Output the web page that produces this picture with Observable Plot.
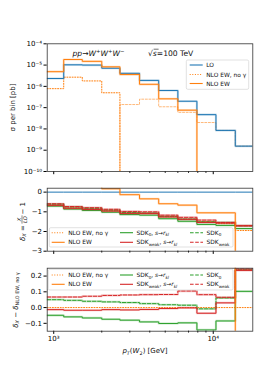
<!DOCTYPE html>
<html><head><meta charset="utf-8">
<script src="https://cdn.jsdelivr.net/npm/d3@7"></script>
<script src="https://cdn.jsdelivr.net/npm/@observablehq/plot@0.6"></script>
<style>
body{margin:0;background:#fff;}
#root{position:relative;width:266px;height:372px;font-family:"DejaVu Sans",sans-serif;overflow:hidden;background:#fff}
#root svg{position:absolute;left:0;}
</style></head><body><div id="root"></div>
<script>
// ---- data ----
const binEdges = [910, 1155, 1510, 2000, 2600, 3450, 4550, 6000, 7900, 10400, 13750, 17700];

// top panel: sigma per bin [pb]
const sigmaLO        = [2.34e-6, 1.03e-5, 1.0e-5, 7.1e-6, 4.1e-6, 1.9e-6, 6.4e-7, 2.0e-7, 4.7e-8, 8.5e-9, 1.55e-9];
const sigmaNLOEW     = [4.9e-6, 1.83e-5, 1.5e-5, 8.3e-6, 3.6e-6, 1.25e-6, 2.6e-7, 7.6e-8, -2.4e-9, -4.3e-10, -4.6e-9];
const sigmaNoGamma   = [7.8e-7, 2.7e-6, 1.8e-6, 5.0e-7, -1.4e-7, -2.5e-7, -1.1e-7, -6e-8, -2e-8, -8.5e-9, -1.55e-9];

// middle panel: delta_X = X/LO - 1
const deltaLO        = [0, 0, 0, 0, 0, 0, 0, 0, 0, 0, 0];
const deltaNLOEW     = [1.1, 0.78, 0.5, 0.17, -0.13, -0.34, -0.59, -0.66, -1.05, -1.05, -4.0];
const deltaNoGamma   = [-0.66, -0.80, -0.86, -0.95, -1.06, -1.08, -1.25, -1.38, -1.50, -1.60, -1.95];
const deltaSDK0r     = [-0.71, -0.86, -0.93, -1.02, -1.14, -1.17, -1.35, -1.48, -1.64, -1.69, -1.85];
const deltaSDK0      = [-0.61, -0.75, -0.82, -0.91, -1.03, -1.06, -1.23, -1.37, -1.51, -1.54, -1.71];
const deltaSDKweakR  = [-0.67, -0.82, -0.88, -0.96, -1.08, -1.09, -1.26, -1.38, -1.54, -1.57, -1.71];
const deltaSDKweak   = [-0.59, -0.73, -0.79, -0.87, -0.98, -1.00, -1.17, -1.28, -1.42, -1.54, -1.70];

// bottom panel: delta_X - delta_(NLO EW, no gamma)
const diffNoGamma    = [0, 0, 0, 0, 0, 0, 0, 0, 0, 0, 0];
const diffNLOEW      = [1.76, 1.58, 1.36, 1.12, 0.93, 0.74, 0.66, 0.72, 0.45, 0.55, -2.0];
const diffSDK0r      = [-0.049, -0.059, -0.066, -0.074, -0.080, -0.091, -0.101, -0.097, -0.142, -0.085, 0.103];
const diffSDK0       = [0.050, 0.046, 0.040, 0.036, 0.032, 0.025, 0.018, 0.015, -0.008, 0.061, 0.240];
const diffSDKweakR   = [-0.013, -0.017, -0.017, -0.013, -0.015, -0.012, -0.006, -0.002, -0.036, 0.030, 0.236];
const diffSDKweak    = [0.067, 0.067, 0.072, 0.077, 0.080, 0.082, 0.083, 0.105, 0.082, 0.065, 0.245];

const xMajorTicks = [1000, 10000];
const xMinorTicks = [2000, 3000, 4000, 5000, 6000, 7000, 8000, 9000];
const topYTicks = [1e-4, 1e-5, 1e-6, 1e-7, 1e-8, 1e-9, 1e-10];
const midYTicks = [0, -1, -2, -3];
const botYTicks = [0.2, 0.1, 0, -0.1];

// ---- styles ----
const C = {blue: "#1f77b4", orange: "#ff7f0e", green: "#2ca02c", red: "#d62728"};
const DOT = "1,1.6", DASH = "3.6,1.6";
const FONT = "DejaVu Sans, sans-serif";

const SUP = {"-": "\u207B", "0": "\u2070", "1": "\u00B9", "2": "\u00B2", "3": "\u00B3", "4": "\u2074", "5": "\u2075", "6": "\u2076", "7": "\u2077", "8": "\u2078", "9": "\u2079"};
const pow10 = d => "10" + String(Math.round(Math.log10(d))).split("").map(c => SUP[c]).join("");
const minus = d => (d < 0 ? "\u2212" : "") + Math.abs(d);

function steps(vals, f = v => v) {
  const pts = vals.map((v, i) => ({x: binEdges[i], y: f(v)}));
  pts.push({x: binEdges[binEdges.length - 1], y: f(vals[vals.length - 1])});
  return pts;
}
const posOnly = v => (v > 0 ? v : 1e-14);
const negOnly = v => (v < 0 ? -v : 1e-14);

function stepLine(vals, stroke, opts = {}, f) {
  const data = steps(vals, f);
  const marks = [];
  if (opts.band) marks.push(Plot.line(data, {x: "x", y: "y", curve: "step-after", stroke, strokeWidth: 2.2, strokeOpacity: 0.25, clip: true}));
  marks.push(Plot.line(data, {x: "x", y: "y", curve: "step-after", stroke, strokeWidth: opts.w || 1, strokeDasharray: opts.dash, strokeOpacity: opts.op || 1, clip: true}));
  return marks;
}

function xAxes(withLabels) {
  return [
    Plot.axisX({ticks: xMinorTicks, tickSize: 1.8, tickFormat: () => "", label: null}),
    Plot.axisX({ticks: xMajorTicks, tickSize: 3.2, tickPadding: 1.5, tickFormat: withLabels ? pow10 : () => "", label: null})
  ];
}

const common = {
  width: 266, marginLeft: 46.7, marginRight: 13.7,
  x: {type: "log", domain: [binEdges[0], binEdges[binEdges.length - 1]]},
  style: {fontFamily: FONT, fontSize: "7px", background: "transparent", overflow: "visible"}
};
const frame = Plot.frame({stroke: "#333", strokeWidth: 0.8});

const topPlot = Plot.plot({
  ...common, height: 180, marginTop: 43.3, marginBottom: 9,
  y: {type: "log", domain: [1e-10, 1e-4]},
  marks: [
    ...stepLine(sigmaNoGamma, C.orange, {dash: DOT}, posOnly),
    ...stepLine(sigmaNoGamma, C.orange, {dash: "2,1.6", op: 0.55}, negOnly),
    ...stepLine(sigmaLO, C.blue, {band: true}, posOnly),
    ...stepLine(sigmaNLOEW, C.orange, {band: true}, posOnly),
    ...xAxes(false),
    Plot.axisY({ticks: topYTicks, tickSize: 3.2, tickPadding: 2, tickFormat: pow10, label: null}),
    frame
  ]
});

const midPlot = Plot.plot({
  ...common, height: 80, marginTop: 7.7, marginBottom: 9.3,
  y: {domain: [-3, 0.2]},
  marks: [
    ...stepLine(deltaLO, C.blue, {}),
    ...stepLine(deltaNoGamma, C.orange, {dash: DOT}),
    ...stepLine(deltaSDK0r, C.green, {band: true}),
    ...stepLine(deltaSDK0, C.green, {dash: DASH, band: true}),
    ...stepLine(deltaSDKweakR, C.red, {band: true}),
    ...stepLine(deltaSDKweak, C.red, {dash: DASH, band: true}),
    ...stepLine(deltaNLOEW, C.orange, {band: true}),
    ...xAxes(false),
    Plot.axisY({ticks: midYTicks, tickSize: 3.2, tickPadding: 2, tickFormat: minus, label: null}),
    frame
  ]
});

const botPlot = Plot.plot({
  ...common, height: 112, marginTop: 7.7, marginBottom: 41.3,
  y: {domain: [-0.15, 0.25]},
  marks: [
    ...stepLine(diffNoGamma, C.orange, {dash: DOT}),
    ...stepLine(diffSDK0r, C.green, {band: true}),
    ...stepLine(diffSDK0, C.green, {dash: DASH, band: true}),
    ...stepLine(diffSDKweakR, C.red, {band: true}),
    ...stepLine(diffSDKweak, C.red, {dash: DASH, band: true}),
    ...stepLine(diffNLOEW, C.orange, {band: true}),
    ...xAxes(true),
    Plot.axisY({ticks: botYTicks, tickSize: 3.2, tickPadding: 2, tickFormat: d => (d < 0 ? "\u2212" : "") + Math.abs(d).toFixed(1), label: null}),
    frame
  ]
});

const root = document.getElementById("root");
[[topPlot, 0], [midPlot, 180], [botPlot, 260]].forEach(([svg, top]) => { svg.style.top = top + "px"; root.appendChild(svg); });

// ---- overlay: titles, axis labels, legends ----
const ov = d3.select(root).append("svg").attr("width", 266).attr("height", 372)
  .style("top", "0px").style("font-family", FONT);

function rich(g, x, y, segs, size, anchor = "start") {
  const t = g.append("text").attr("x", x).attr("y", y).attr("font-size", size).attr("text-anchor", anchor).attr("fill", "#111");
  let shift = 0;
  for (const s of segs) {
    const target = s.sub ? size * 0.28 : s.sup ? -size * 0.38 : 0;
    t.append("tspan").attr("dy", target - shift).attr("font-size", (s.sub || s.sup) ? size * 0.7 : size)
      .attr("font-style", s.it ? "italic" : "normal").text(s.t);
    shift = target;
  }
  return t;
}

// title
rich(ov, 72.5, 56, [{t: "pp", it: true}, {t: "\u2192"}, {t: "W", it: true}, {t: "+", sup: true}, {t: "W", it: true}, {t: "+", sup: true}, {t: "W", it: true}, {t: "\u2212", sup: true}], 7.6);
rich(ov, 148, 56, [{t: "\u221A"}, {t: "s", it: true}, {t: "=100 TeV"}], 7.6);
ov.append("line").attr("x1", 153.6).attr("x2", 158.6).attr("y1", 49.2).attr("y2", 49.2).attr("stroke", "#111").attr("stroke-width", 0.6);

// y labels
ov.append("text").attr("transform", "translate(13,107.5) rotate(-90)").attr("text-anchor", "middle")
  .attr("dy", "0.35em").attr("font-size", 7).attr("fill", "#111").text("\u03C3 per bin [pb]");

const gm = ov.append("g").attr("transform", "translate(22,220) rotate(-90)");
rich(gm, -21, 2.5, [{t: "\u03B4", it: true}, {t: "X", sub: true, it: true}, {t: " = "}], 7);
gm.append("text").attr("x", 0.5).attr("y", -1.2).attr("font-size", 5.2).attr("font-style", "italic").attr("text-anchor", "middle").attr("fill", "#111").text("X");
gm.append("text").attr("x", 0.5).attr("y", 5.2).attr("font-size", 5.2).attr("font-style", "italic").attr("text-anchor", "middle").attr("fill", "#111").text("LO");
gm.append("line").attr("x1", -3.6).attr("x2", 4.6).attr("y1", 0).attr("y2", 0).attr("stroke", "#111").attr("stroke-width", 0.5);
rich(gm, 5.5, 2.5, [{t: " \u2212 1"}], 7);

const gb = ov.append("g").attr("transform", "translate(15,300) rotate(-90)");
rich(gb, 0, 2.5, [{t: "\u03B4", it: true}, {t: "X", sub: true, it: true}, {t: " \u2212 "}, {t: "\u03B4", it: true}, {t: "NLO EW, no \u03B3", sub: true}], 7, "middle");

// x label
rich(ov, 145, 353, [{t: "p", it: true}, {t: "T", sub: true, it: true}, {t: "("}, {t: "W", it: true}, {t: "2", sub: true}, {t: ") [GeV]"}], 7, "middle");

// legends
function legend(box, items, size) {
  ov.append("rect").attr("x", box.x).attr("y", box.y).attr("width", box.w).attr("height", box.h).attr("rx", 1.5)
    .attr("fill", "white").attr("fill-opacity", 0.8).attr("stroke", "#ccc").attr("stroke-width", 0.6);
  for (const it of items) {
    ov.append("line").attr("x1", it.x).attr("x2", it.x + 13).attr("y1", it.y).attr("y2", it.y)
      .attr("stroke", it.c).attr("stroke-width", 1.1).attr("stroke-dasharray", it.dash || null);
    rich(ov, it.x + 16.5, it.y + 2.1, it.label, size);
  }
}
const L = {
  lo: [{t: "LO"}],
  noG: [{t: "NLO EW, no \u03B3"}],
  nlo: [{t: "NLO EW"}],
  sdk0r: [{t: "SDK"}, {t: "0", sub: true}, {t: ", "}, {t: "s", it: true}, {t: "\u2192"}, {t: "r", it: true}, {t: "kl", sub: true, it: true}],
  sdkwr: [{t: "SDK"}, {t: "weak", sub: true}, {t: ", "}, {t: "s", it: true}, {t: "\u2192"}, {t: "r", it: true}, {t: "kl", sub: true, it: true}],
  sdk0: [{t: "SDK"}, {t: "0", sub: true}],
  sdkw: [{t: "SDK"}, {t: "weak", sub: true}]
};
legend({x: 186.3, y: 60, w: 62.4, h: 29.3}, [
  {x: 189.7, y: 65, c: C.blue, label: L.lo},
  {x: 189.7, y: 74.5, c: C.orange, dash: DOT, label: L.noG},
  {x: 189.7, y: 83.5, c: C.orange, label: L.nlo}
], 5.9);
function ratioLegend(box, y1, y2) {
  legend(box, [
    {x: 51.7, y: y1, c: C.orange, dash: DOT, label: L.noG},
    {x: 51.7, y: y2, c: C.orange, label: L.nlo},
    {x: 120, y: y1, c: C.green, label: L.sdk0r},
    {x: 120, y: y2, c: C.red, label: L.sdkwr},
    {x: 190, y: y1, c: C.green, dash: DASH, label: L.sdk0},
    {x: 190, y: y2, c: C.red, dash: DASH, label: L.sdkw}
  ], 5.9);
}
ratioLegend({x: 49.3, y: 227.7, w: 183.7, h: 19.3}, 232.7, 242.3);
ratioLegend({x: 48.3, y: 269.3, w: 184.7, h: 20.7}, 275, 284.3);
</script></body></html>
